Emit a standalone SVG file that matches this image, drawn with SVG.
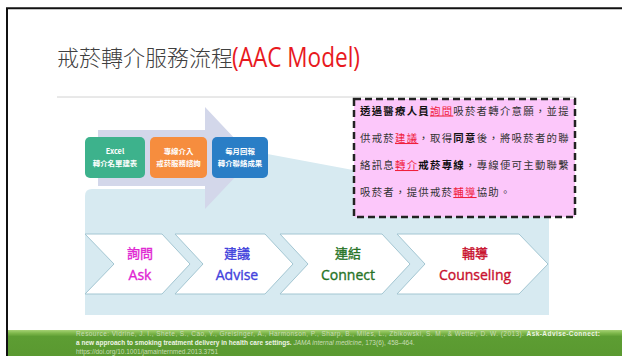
<svg xmlns="http://www.w3.org/2000/svg" width="622" height="356" viewBox="0 0 622 356">
<defs>
<style>
.cjk{font-family:"Noto Sans CJK TC","Noto Sans",sans-serif;}
.box{font-family:"Noto Sans CJK TC","Noto Sans",sans-serif;font-size:7.4px;fill:#ffffff;text-anchor:middle;font-weight:bold;}
.chev{fill:#ffffff;stroke:#a3c6d2;stroke-width:1;}
.lab{font-family:"Open Sans","Noto Sans CJK TC",sans-serif;text-anchor:middle;font-weight:normal;stroke-width:0.35px;}
.note{font-family:"Noto Sans CJK TC",sans-serif;font-size:10.4px;letter-spacing:1.27px;fill:#333333;}
.hl{fill:#f0203c;text-decoration:underline;}
.b{font-weight:bold;fill:#111111;}
.foot{font-family:"Liberation Sans",Arial,sans-serif;font-size:6.5px;fill:#c9dcb6;}
</style>
<linearGradient id="g" x1="0" y1="0" x2="0" y2="1">
<stop offset="0" stop-color="#a6d274"/>
<stop offset="0.12" stop-color="#7fb84c"/>
<stop offset="0.25" stop-color="#5d9d33"/>
<stop offset="1" stop-color="#5a9930"/>
</linearGradient>
</defs>
<rect x="0" y="0" width="622" height="356" fill="#ffffff"/>
<line x1="6" y1="8.3" x2="622" y2="8.3" stroke="#111" stroke-width="2"/>
<line x1="7" y1="8" x2="7" y2="356" stroke="#111" stroke-width="2"/>
<text class="cjk" x="57" y="66" font-size="22" fill="#404040" font-weight="300">戒菸轉介服務流程</text>
<text x="232" y="66.5" font-family="Open Sans,Noto Sans,sans-serif" font-size="27" fill="#e8191e" textLength="128" lengthAdjust="spacingAndGlyphs">(AAC Model)</text>
<line x1="57" y1="97" x2="575" y2="97" stroke="#d2d2d2" stroke-width="1"/>
<path d="M85,196 Q85,189 92,189 L205,189 L220,145 L353,170 L549,207 L549,315 L85,315 Z" fill="#d7eaf1"/>
<g id="connectors">
<path d="M98,130 L205,130 L205,107 L253,158 L205,209 L205,186 L98,186 Z" fill="#d3d7ea"/>
</g>
<g id="excel">
<rect x="85" y="137" width="60" height="41" rx="5" fill="#3db28c"/>
<text class="box" x="115" y="154" font-family="Open Sans,Noto Sans CJK TC,sans-serif">Excel</text>
<text class="box" x="115" y="166">轉介名單建表</text>
</g>
<g id="hotline">
<rect x="150" y="137" width="57" height="41" rx="5" fill="#f68d3e"/>
<text class="box" x="178.5" y="154">專線介入</text>
<text class="box" x="178.5" y="166">戒菸服務諮詢</text>
</g>
<g id="report">
<rect x="212" y="137" width="56" height="41" rx="5" fill="#2a7ec6"/>
<text class="box" x="240" y="154">每月回報</text>
<text class="box" x="240" y="166">轉介聯絡成果</text>
</g>
<g id="note">
<rect x="354" y="99" width="221" height="118" fill="#fcc7fa" stroke="#222" stroke-width="2.5" stroke-dasharray="7 4"/>
<text class="note" x="360" y="114.5"><tspan class="b">透過醫療人員</tspan><tspan class="hl">詢問</tspan>吸菸者轉介意願，並提</text>
<text class="note" x="360" y="142">供戒菸<tspan class="hl">建議</tspan>，取得<tspan class="b">同意</tspan>後，將吸菸者的聯</text>
<text class="note" x="360" y="169">絡訊息<tspan class="hl">轉介</tspan><tspan class="b">戒菸專線</tspan>，專線便可主動聯繫</text>
<text class="note" x="360" y="196">吸菸者，提供戒菸<tspan class="hl">輔導</tspan>協助。</text>
</g>
<g id="ask">
<path class="chev" d="M85,234 L162,234 L190,264 L162,294 L85,294 L114,264 Z"/>
<text class="lab" x="140" y="258" font-size="13" fill="#e024d2" stroke="#e024d2">詢問</text>
<text class="lab" x="140" y="280" font-size="14" fill="#e024d2" stroke="#e024d2">Ask</text>
</g>
<g id="advise">
<path class="chev" d="M175,234 L265,234 L293,264 L265,294 L175,294 L203,264 Z"/>
<text class="lab" x="237" y="258" font-size="13" fill="#4242dc" stroke="#4242dc">建議</text>
<text class="lab" x="237" y="280" font-size="14" fill="#4242dc" stroke="#4242dc">Advise</text>
</g>
<g id="connect">
<path class="chev" d="M280,234 L382,234 L410,264 L382,294 L280,294 L308,264 Z"/>
<text class="lab" x="348" y="258" font-size="13" fill="#267326" stroke="#267326">連結</text>
<text class="lab" x="348" y="280" font-size="14" fill="#267326" stroke="#267326">Connect</text>
</g>
<g id="counseling">
<path class="chev" d="M397,234 L519,234 L548,264 L519,294 L397,294 L425,264 Z"/>
<text class="lab" x="475" y="258" font-size="13" fill="#c8102e" stroke="#c8102e">輔導</text>
<text class="lab" x="475" y="280" font-size="14" fill="#c8102e" stroke="#c8102e">Counseling</text>
</g>
<rect x="8" y="330" width="614" height="26" fill="url(#g)"/>
<text class="foot" x="76" y="335.5" textLength="524" lengthAdjust="spacing">Resource: Vidrine, J. I., Shete, S., Cao, Y., Greisinger, A., Harmonson, P., Sharp, B., Miles, L., Zbikowski, S. M., &amp; Wetter, D. W. (2013). <tspan font-weight="bold" fill="#eef4e6">Ask-Advise-Connect:</tspan></text>
<text class="foot" x="76" y="344.5"><tspan font-weight="bold" fill="#eef4e6">a new approach to smoking treatment delivery in health care settings.</tspan> <tspan font-style="italic">JAMA internal medicine</tspan>, 173(6), 458–464.</text>
<text class="foot" x="76" y="353.5">https://doi.org/10.1001/jamainternmed.2013.3751</text>
</svg>
